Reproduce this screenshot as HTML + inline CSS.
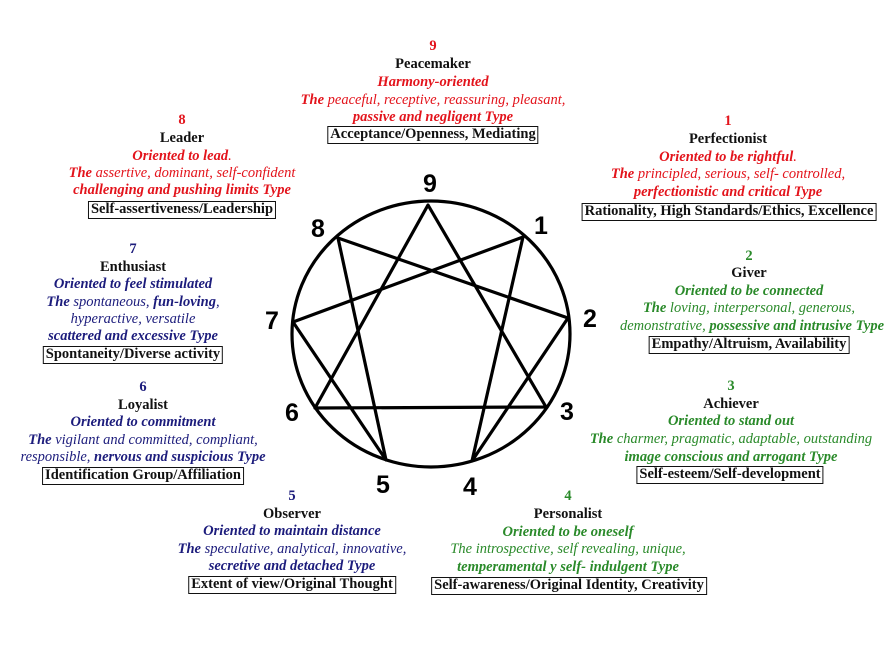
<!DOCTYPE html>
<html><head><meta charset="utf-8"><style>
body{margin:0;width:892px;height:648px;background:#fff;position:relative;overflow:hidden;font-family:"Liberation Serif",serif;}
.l{position:absolute;white-space:nowrap;transform:translateX(-50%);font-size:14.5px;line-height:16px;height:16px;font-weight:bold;}
.r{color:#e3141c}.b{color:#1c1c7c}.g{color:#2a8a2a}.k{color:#111}
.i{font-style:italic}
.n{font-weight:normal}
.box{border:1px solid #111;padding:0 2px;line-height:15px;height:16px;color:#111}
</style></head><body>
<svg width="892" height="648" style="position:absolute;left:0;top:0">
<g fill="none" stroke="#000" stroke-width="3.2" stroke-linejoin="round">
<ellipse cx="431" cy="334" rx="139" ry="133"/>
<polygon points="428,205 546,407 315,408"/>
<polygon points="523,237 472,461 568,318 338,238 386,460 293,322"/>
</g>
<g font-family="Liberation Sans, sans-serif" font-weight="bold" font-size="25" text-anchor="middle" fill="#000">
<text x="430" y="192">9</text><text x="541" y="234">1</text><text x="590" y="327">2</text>
<text x="567" y="420">3</text><text x="470" y="495">4</text><text x="383" y="493">5</text>
<text x="292" y="421">6</text><text x="272" y="329">7</text><text x="318" y="237">8</text>
</g>
</svg>

<div class="l r" style="left:433px;top:38px">9</div>
<div class="l k" style="left:433px;top:56px">Peacemaker</div>
<div class="l r i" style="left:433px;top:74px">Harmony-oriented</div>
<div class="l r i" style="left:433px;top:92px">The <span class="n">peaceful, receptive, reassuring, pleasant,</span></div>
<div class="l r i" style="left:433px;top:109px">passive and negligent Type</div>
<div class="l box" style="left:433px;top:126px">Acceptance/Openness, Mediating</div>

<div class="l r" style="left:182px;top:112px">8</div>
<div class="l k" style="left:182px;top:130px">Leader</div>
<div class="l r i" style="left:182px;top:148px">Oriented to lead<span class="n">.</span></div>
<div class="l r i" style="left:182px;top:165px">The <span class="n">assertive, dominant, self-confident</span></div>
<div class="l r i" style="left:182px;top:182px">challenging and pushing limits Type</div>
<div class="l box" style="left:182px;top:201px">Self-assertiveness/Leadership</div>

<div class="l r" style="left:728px;top:113px">1</div>
<div class="l k" style="left:728px;top:131px">Perfectionist</div>
<div class="l r i" style="left:728px;top:149px">Oriented to be rightful<span class="n">.</span></div>
<div class="l r i" style="left:728px;top:166px">The <span class="n">principled, serious, self- controlled,</span></div>
<div class="l r i" style="left:728px;top:184px">perfectionistic and critical Type</div>
<div class="l box" style="left:729px;top:203px">Rationality, High Standards/Ethics, Excellence</div>

<div class="l b" style="left:133px;top:241px">7</div>
<div class="l k" style="left:133px;top:259px">Enthusiast</div>
<div class="l b i" style="left:133px;top:276px">Oriented to feel stimulated</div>
<div class="l b i" style="left:133px;top:294px">The <span class="n">spontaneous, </span>fun-loving<span class="n">,</span></div>
<div class="l b i n" style="left:133px;top:311px">hyperactive, versatile</div>
<div class="l b i" style="left:133px;top:328px">scattered and excessive Type</div>
<div class="l box" style="left:133px;top:346px">Spontaneity/Diverse activity</div>

<div class="l g" style="left:749px;top:248px">2</div>
<div class="l k" style="left:749px;top:265px">Giver</div>
<div class="l g i" style="left:749px;top:283px">Oriented to be connected</div>
<div class="l g i" style="left:749px;top:300px">The <span class="n">loving, interpersonal, generous,</span></div>
<div class="l g i" style="left:752px;top:318px"><span class="n">demonstrative, </span>possessive and intrusive Type</div>
<div class="l box" style="left:749px;top:336px">Empathy/Altruism, Availability</div>

<div class="l b" style="left:143px;top:379px">6</div>
<div class="l k" style="left:143px;top:397px">Loyalist</div>
<div class="l b i" style="left:143px;top:414px">Oriented to commitment</div>
<div class="l b i" style="left:143px;top:432px">The <span class="n">vigilant and committed, compliant,</span></div>
<div class="l b i" style="left:143px;top:449px"><span class="n">responsible, </span>nervous and suspicious Type</div>
<div class="l box" style="left:143px;top:467px">Identification Group/Affiliation</div>

<div class="l g" style="left:731px;top:378px">3</div>
<div class="l k" style="left:731px;top:396px">Achiever</div>
<div class="l g i" style="left:731px;top:413px">Oriented to stand out</div>
<div class="l g i" style="left:731px;top:431px">The <span class="n">charmer, pragmatic, adaptable, outstanding</span></div>
<div class="l g i" style="left:731px;top:449px">image conscious and arrogant Type</div>
<div class="l box" style="left:730px;top:466px">Self-esteem/Self-development</div>

<div class="l b" style="left:292px;top:488px">5</div>
<div class="l k" style="left:292px;top:506px">Observer</div>
<div class="l b i" style="left:292px;top:523px">Oriented to maintain distance</div>
<div class="l b i" style="left:292px;top:541px">The <span class="n">speculative, analytical, innovative,</span></div>
<div class="l b i" style="left:292px;top:558px">secretive and detached Type</div>
<div class="l box" style="left:292px;top:576px">Extent of view/Original Thought</div>

<div class="l g" style="left:568px;top:488px">4</div>
<div class="l k" style="left:568px;top:506px">Personalist</div>
<div class="l g i" style="left:568px;top:524px">Oriented to be oneself</div>
<div class="l g i n" style="left:568px;top:541px">The introspective, self revealing, unique,</div>
<div class="l g i" style="left:568px;top:559px">temperamental y self- indulgent Type</div>
<div class="l box" style="left:569px;top:577px">Self-awareness/Original Identity, Creativity</div>
</body></html>
